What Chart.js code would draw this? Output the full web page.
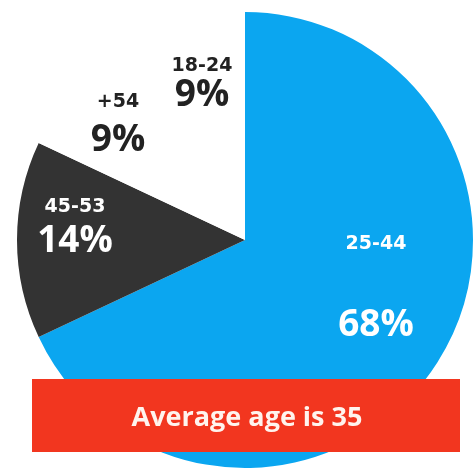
<!DOCTYPE html>
<html>
<head>
<meta charset="utf-8">
<script src="https://cdn.jsdelivr.net/npm/chart.js@4/dist/chart.umd.min.js"></script>
<style>
  html, body { margin: 0; padding: 0; background: #fff; }
  #wrap { width: 475px; height: 472px; }
</style>
</head>
<body>
<div id="wrap"><canvas id="ageChart" width="475" height="472"></canvas></div>
<script>
// age groups, clockwise from 12 o'clock
let ageGroups = ['25-44', '45-53', '+54', '18-24'];
let shares = [68, 14, 9, 9];
let shareLabels = ['68%', '14%', '9%', '9%'];
let sliceColors = ['#0ba6f0', '#333333', '#ffffff', '#ffffff'];
let bannerText = 'Average age is 35';

// where each label pair sits [x, y of group name, y of percent]
let labelSpots = [
    [376, 244, 325],
    [75, 207, 241],
    [118, 102, 140],
    [202, 66, 95]
];
let labelColors = ['#ffffff', '#ffffff', '#222222', '#222222'];

const labelsPlugin = {
    id: 'sliceLabels',
    afterDatasetsDraw(chart) {
        let ctx = chart.ctx;
        ctx.save();
        ctx.textAlign = 'center';
        ctx.textBaseline = 'middle';
        ageGroups.forEach((g, i) => {
            let [x, y1, y2] = labelSpots[i];
            ctx.fillStyle = labelColors[i];
            ctx.font = 'bold 19px "DejaVu Sans", sans-serif';
            ctx.fillText(g, x, y1);
            ctx.font = 'bold 37px "Open Sans", sans-serif';
            ctx.fillText(shareLabels[i], x, y2);
        });

        // red banner
        ctx.fillStyle = '#f2361f';
        ctx.fillRect(32, 379, 428, 73);
        ctx.fillStyle = '#fff4ee';
        ctx.font = 'bold 27px "Open Sans", sans-serif';
        ctx.fillText(bannerText, 247, 418);
        ctx.restore();
    }
};

let ctx = document.getElementById('ageChart').getContext('2d');
var chart = new Chart(ctx, {
    type: 'pie',
    data: {
        labels: ageGroups,
        datasets: [{
            data: shares,
            backgroundColor: sliceColors,
            borderWidth: 0
        }]
    },
    options: {
        responsive: false,
        animation: false,
        layout: {
            padding: { left: 17, right: 2, top: 12, bottom: 4 }
        },
        plugins: {
            legend: { display: false },
            tooltip: { enabled: false }
        }
    },
    plugins: [labelsPlugin]
});
</script>
</body>
</html>
